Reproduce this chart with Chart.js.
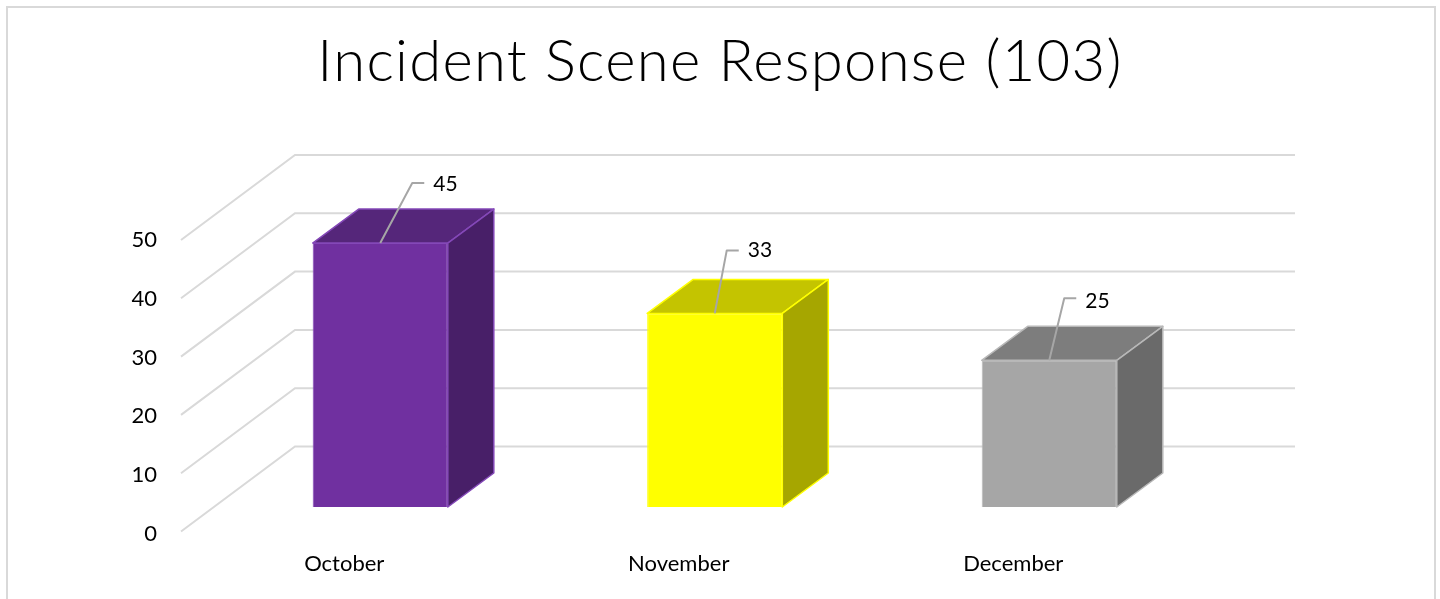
<!DOCTYPE html>
<html>
<head>
<meta charset="utf-8">
<title>Incident Scene Response</title>
<script src="https://cdn.jsdelivr.net/npm/chart.js@4"></script>
<style>
  html, body { margin: 0; padding: 0; background: #fff; overflow: hidden; }
  #frame { position: absolute; left: 6px; top: 6px; width: 1426px; height: 700px; border: 2px solid #d9d9d9; }
  #chart { position: absolute; left: 0; top: 0; }
</style>
</head>
<body>
<div id="frame"></div>
<canvas id="chart" width="1440" height="599"></canvas>
<script>
// DATA

const months = ["October", "November", "December"];
const incidents = [45, 33, 25];
const chartTitle = "Incident Scene Response (103)";

// COLORS

const frontColors = ["#7030a0", "#ffff00", "#a6a6a6"];
const topColors = ["#55267a", "#c4c400", "#7d7d7d"];
const sideColors = ["#481f68", "#a6a600", "#6a6a6a"];
const edgeColors = ["#8448b8", "#ffff00", "#b8b8b8"];

// 3D LOOK

const wallDx = 114, wallDy = 85;
const wallScale = 0.994;
const floorDx = 32, floorDy = 24.5;
const barDx = 46, barDy = 34;
const leaderDx = [32, 12, 15];
const leaderDy = [60, 63, 62];
const labelDy = [1, 0, 3];
const labelFont = '21px Lato';

const depthPlugin = {
  id: "depth",
  beforeDraw(chart) {
    // spacing for the title only, it is drawn first
    chart.ctx.letterSpacing = "1.3px";
  },
  beforeDatasetsDraw(chart) {
    const ctx = chart.ctx;
    const y = chart.scales.y;
    const left = chart.chartArea.left;

    ctx.letterSpacing = "0px";

    // walls and grid lines
    ctx.save();
    ctx.strokeStyle = "#d9d9d9";
    ctx.lineWidth = 2;
    y.ticks.forEach(t => {
      const py = y.bottom - (y.bottom - y.getPixelForValue(t.value)) * wallScale;
      ctx.beginPath();
      ctx.moveTo(left, py);
      ctx.lineTo(left + wallDx, py - wallDy);
      ctx.lineTo(1295, py - wallDy);
      ctx.stroke();
    });
    ctx.restore();

    // bars stand a bit back from the front edge of the floor
    ctx.save();
    ctx.translate(floorDx, -floorDy);
  },
  afterDatasetsDraw(chart) {
    const ctx = chart.ctx;
    chart.getDatasetMeta(0).data.forEach((bar, i) => {
      const half = bar.width / 2;
      const l = bar.x - half, r = bar.x + half;

      ctx.lineWidth = 1.5;
      ctx.lineJoin = "round";
      ctx.strokeStyle = edgeColors[i];

      // top face
      ctx.fillStyle = topColors[i];
      ctx.beginPath();
      ctx.moveTo(l, bar.y);
      ctx.lineTo(l + barDx, bar.y - barDy);
      ctx.lineTo(r + barDx, bar.y - barDy);
      ctx.lineTo(r, bar.y);
      ctx.closePath();
      ctx.fill();
      ctx.stroke();

      // side face
      ctx.fillStyle = sideColors[i];
      ctx.beginPath();
      ctx.moveTo(r, bar.y);
      ctx.lineTo(r + barDx, bar.y - barDy);
      ctx.lineTo(r + barDx, bar.base - barDy);
      ctx.lineTo(r, bar.base);
      ctx.closePath();
      ctx.fill();
      ctx.stroke();

      // leader line and value
      ctx.strokeStyle = "#a6a6a6";
      ctx.lineWidth = 2;
      ctx.beginPath();
      ctx.moveTo(bar.x, bar.y);
      ctx.lineTo(bar.x + leaderDx[i], bar.y - leaderDy[i]);
      ctx.lineTo(bar.x + leaderDx[i] + 12, bar.y - leaderDy[i]);
      ctx.stroke();

      ctx.fillStyle = "#000";
      ctx.font = labelFont;
      ctx.textAlign = "left";
      ctx.textBaseline = "middle";
      ctx.fillText(incidents[i], bar.x + leaderDx[i] + 21, bar.y - leaderDy[i] + labelDy[i]);
    });
    ctx.restore();
  }
};

// BAR CHART

new Chart(document.getElementById("chart"), {
  type: "bar",
  data: {
    labels: months,
    datasets: [
      {
        data: incidents,
        backgroundColor: frontColors,
        borderColor: edgeColors,
        borderWidth: 1,
        categoryPercentage: 1,
        barPercentage: 0.404,
        clip: false
      }
    ]
  },
  options: {
    responsive: false,
    animation: false,
    plugins: {
      legend: { display: false },
      tooltip: { enabled: false },
      title: {
        display: true,
        text: chartTitle,
        color: "#000",
        font: { family: "Lato", size: 58, weight: "300", lineHeight: 1.2 },
        padding: { top: 27, bottom: 141.6 }
      }
    },
    scales: {
      x: {
        grid: { display: false },
        border: { display: false },
        ticks: {
          z: 1,
          color: "#000",
          padding: 11,
          labelOffset: -4,
          maxRotation: 0,
          font: { family: "Lato", size: 22 }
        },
        afterFit(scale) { scale.height = 67.5; }
      },
      y: {
        min: 0,
        max: 50,
        grid: { display: false },
        border: { display: false },
        ticks: {
          z: 1,
          stepSize: 10,
          color: "#000",
          padding: 16,
          labelOffset: 2,
          font: { family: "Lato", size: 22 }
        },
        afterFit(scale) { scale.width = 181; }
      },
      // empty axis, only keeps the room right of the plot
      rightGap: {
        position: "right",
        grid: { display: false },
        border: { display: false },
        ticks: { display: false },
        afterFit(scale) { scale.width = 255.5; }
      }
    }
  },
  plugins: [depthPlugin]
});
</script>
</body>
</html>
